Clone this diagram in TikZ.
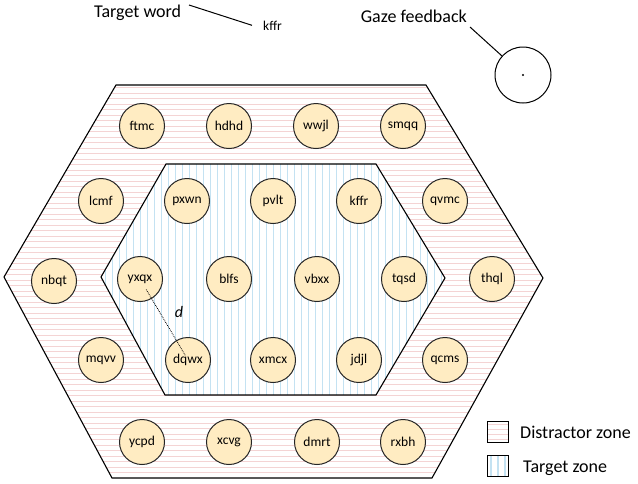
\documentclass[tikz,border=0pt]{standalone}
\usepackage{fontspec}
\setmainfont{Carlito}
\usetikzlibrary{calc}
\definecolor{circfill}{RGB}{255,236,194}
\definecolor{pinkline}{RGB}{244,212,212}
\definecolor{blueline}{RGB}{196,226,242}
\begin{document}
\begin{tikzpicture}[x=1pt,y=-1pt,
  word/.style={circle,draw=black!85,line width=1pt,fill=circfill,minimum size=45pt,inner sep=0pt,
    font=\fontsize{13.5}{15}\selectfont},
  label18/.style={inner sep=0pt,font=\fontsize{18}{21}\selectfont},
  border/.style={draw=black,line width=1.1pt,line join=miter},
  legbox/.style={draw=black,line width=1.6pt,minimum size=21pt,inner sep=0pt,fill=white}
]
\useasboundingbox (0,0) rectangle (638,483);

% distractor zone (outer hexagon) with horizontal pink lines
\begin{scope}
  \clip (116,85) -- (426,85) -- (543,278) -- (432,478) -- (112,478) -- (4,277) -- cycle;
  \fill[white] (0,80) rectangle (560,483);
  \foreach \y in {87.5,93,...,478} \draw[pinkline,line width=0.9pt] (0,\y) -- (560,\y);
\end{scope}
\draw[border] (116,85) -- (426,85) -- (543,278) -- (432,478) -- (112,478) -- (4,277) -- cycle;

% target zone (inner hexagon) with vertical blue lines
\begin{scope}
  \clip (166,164) -- (376,164) -- (445,278) -- (376,395) -- (165,395) -- (101,277) -- cycle;
  \fill[white] (95,160) rectangle (450,400);
  \foreach \x in {105,112,...,445} \draw[blueline,line width=0.9pt] (\x,160) -- (\x,400);
\end{scope}
\draw[border] (166,164) -- (376,164) -- (445,278) -- (376,395) -- (165,395) -- (101,277) -- cycle;

% word circles
\node[word] (ftmc) at (142,126) {ftmc};
\node[word] (hdhd) at (229,126) {hdhd};
\node[word] (wwjl) at (316,126) {wwjl};
\node[word] (smqq) at (403,126) {smqq};

\node[word] (lcmf) at (101,201) {lcmf};
\node[word] (pxwn) at (187,201) {pxwn};
\node[word] (pvlt) at (273,201) {pvlt};
\node[word] (kffr) at (359,201) {kffr};
\node[word] (qvmc) at (445,201) {qvmc};

\node[word] (nbqt) at (54,281) {nbqt};
\node[word] (yxqx) at (140,279) {yxqx};
\node[word] (blfs) at (229,279) {blfs};
\node[word] (vbxx) at (317,279) {vbxx};
\node[word] (tqsd) at (404,279) {tqsd};
\node[word] (thql) at (492,279) {thql};

\node[word] (mqvv) at (101,360) {mqvv};
\node[word] (dqwx) at (188,360) {dqwx};
\node[word] (xmcx) at (273,360) {xmcx};
\node[word] (jdjl) at (359,360) {jdjl};
\node[word] (qcms) at (445,360) {qcms};

\node[word] (ycpd) at (142,442) {ycpd};
\node[word] (xcvg) at (229,442) {xcvg};
\node[word] (dmrt) at (317,442) {dmrt};
\node[word] (rxbh) at (403,442) {rxbh};

% distance d
\draw[densely dotted,line width=0.8pt] ($(yxqx.center)!0.13!(dqwx.center)$) -- ($(dqwx.center)!0.05!(yxqx.center)$);
\node[inner sep=0pt,font=\fontsize{16}{18}\selectfont\itshape] (dlab) at (179,312) {d};

% target word
\node[label18,anchor=base west] (tword) at (94,17) {Target word};
\node[inner sep=0pt,anchor=base west,font=\fontsize{13.5}{15}\selectfont] (tkffr) at (263,30) {kffr};
\coordinate (twa) at (189,5);
\coordinate (twb) at ($(tkffr.west)+(-11,0)$);
\draw[line width=1pt] (twa) -- (twb);

% gaze feedback
\node[label18,anchor=base east] (gazet) at (467,22) {Gaze feedback};
\node[circle,draw=black,line width=1pt,minimum size=56pt,inner sep=0pt] (gaze) at (523,75) {};
\fill (gaze.center) circle (1.1pt);
\coordinate (gza) at (470,27);
\draw[line width=1pt] (gza) -- (gaze);

% legend
\node[legbox,path picture={
    \foreach \k in {-8,-3,...,10} \draw[pinkline,line width=0.9pt]
      ($(path picture bounding box.west)+(0,\k)$) -- ($(path picture bounding box.east)+(0,\k)$);
  }] (legd) at (498,432) {};
\node[legbox,path picture={
    \foreach \k in {-7,0,7} \draw[blueline,line width=1.2pt]
      ($(path picture bounding box.north)+(\k,0)$) -- ($(path picture bounding box.south)+(\k,0)$);
  }] (legt) at (498,466) {};
\node[label18,anchor=base west] (legdt) at (520,438) {Distractor zone};
\node[label18,anchor=base west] (legtt) at (523,472) {Target zone};
\end{tikzpicture}
\end{document}
